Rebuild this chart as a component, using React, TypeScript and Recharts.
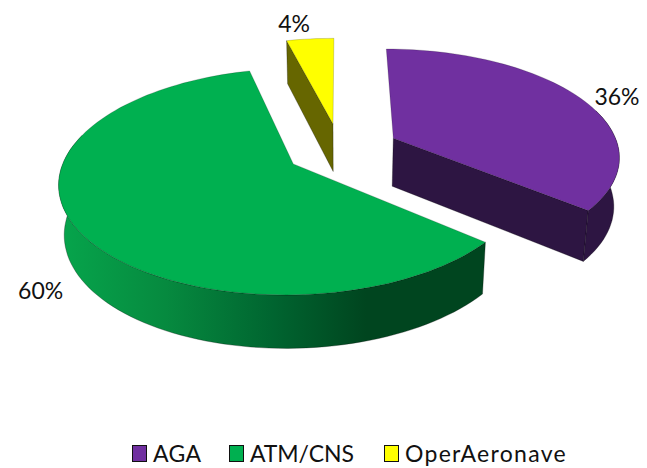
import React from 'react';
import { PieChart, Pie, Cell, Legend } from 'recharts';

const categories = ['AGA', 'ATM/CNS', 'OperAeronave'];
const shares = [36, 60, 4];

const COLORS = ['#7030A0', '#00B050', '#FFFF00'];
const WALLS = ['#2D1542', '#00451F', '#666600'];
const EXPLODE = [0.265, 0.24, 0.255];
const LABEL_NUDGE = [[38, -1], [-36, 61], [-16, -16]];

const FONT = 'Lato, "Open Sans", sans-serif';
const TILT = 0.47;
const PERSPECTIVE = 0.153;

const chartData = categories.map((name, i) => ({ name, value: shares[i] }));

const rad = (deg: number) => (deg * Math.PI) / 180;

// projects a point of the pie's plane (radius 1 = outerRadius) to the screen
const project = (cx: number, cy: number, r: number, X: number, Y: number, low = false) => {
  const s = 1 / (1 + PERSPECTIVE * Y);
  const x = r * X * s;
  const y = -r * TILT * Y * s;
  if (!low) return [cx + x, cy + y];
  return [cx + x * 0.98, cy + y + 48.5 - 4.4 * Y];
};

const toPath = (pts: number[][]) =>
  pts.map((p, i) => `${i ? 'L' : 'M'}${p[0].toFixed(1)},${p[1].toFixed(1)}`).join(' ') + ' Z';

const Slice3D = (props: any) => {
  const { cx, cy, outerRadius, startAngle, endAngle, midAngle } = props;
  const index = categories.indexOf(props.name);
  const ox = EXPLODE[index] * Math.cos(rad(midAngle));
  const oy = EXPLODE[index] * Math.sin(rad(midAngle));

  const angles: number[] = [];
  const steps = Math.max(4, Math.ceil(Math.abs(endAngle - startAngle) / 2));
  for (let i = 0; i <= steps; i++) angles.push(startAngle + ((endAngle - startAngle) * i) / steps);

  const rim = (a: number, low = false) =>
    project(cx, cy, outerRadius, ox + Math.cos(rad(a)), oy + Math.sin(rad(a)), low);
  const apex = (low = false) => project(cx, cy, outerRadius, ox, oy, low);

  // the back of the rim is hidden by the top face
  const front = angles.filter((a) => Math.sin(rad(a)) < 0.3);

  const top = [apex(), ...angles.map((a) => rim(a))];
  const outer = [...front.map((a) => rim(a)), ...front.slice().reverse().map((a) => rim(a, true))];
  const cutA = [apex(), rim(startAngle), rim(startAngle, true), apex(true)];
  const cutB = [apex(), rim(endAngle), rim(endAngle, true), apex(true)];
  // a cut face only shows when it turns towards the viewer
  const showA = Math.cos(rad(startAngle)) < -0.01;
  const showB = Math.cos(rad(endAngle)) > 0.01;
  const wall = WALLS[index];
  const outerFill = index === 1 ? 'url(#greenWall)' : wall;
  const edge = { stroke: '#000', strokeOpacity: 0.4, strokeWidth: 0.7 };

  return (
    <g>
      <defs>
        <linearGradient id="greenWall" x1="0" y1="0" x2="1" y2="0">
          <stop offset="0" stopColor="#06A54C" />
          <stop offset="0.25" stopColor="#068A3F" />
          <stop offset="0.5" stopColor="#006530" />
          <stop offset="0.72" stopColor="#00451F" />
          <stop offset="1" stopColor="#00451F" />
        </linearGradient>
      </defs>
      {showA && <path d={toPath(cutA)} fill={wall} {...edge} />}
      {showB && <path d={toPath(cutB)} fill={wall} {...edge} />}
      {front.length > 1 && <path d={toPath(outer)} fill={outerFill} {...edge} />}
      <path d={toPath(top)} fill={COLORS[index]} {...edge} strokeOpacity={0.25} />
    </g>
  );
};

const renderLabel = (props: any) => {
  const { cx, cy, outerRadius, midAngle, name, value } = props;
  const index = categories.indexOf(name);
  const r = 1 + EXPLODE[index];
  const [x, y] = project(cx, cy, outerRadius, r * Math.cos(rad(midAngle)), r * Math.sin(rad(midAngle)));
  return (
    <text
      x={x + LABEL_NUDGE[index][0]}
      y={y + LABEL_NUDGE[index][1]}
      textAnchor="middle"
      dominantBaseline="central"
      fontFamily={FONT}
      fontSize={23}
      fill="#111"
    >
      {`${value}%`}
    </text>
  );
};

const renderLegend = () => (
  <div style={{ position: 'relative', height: 28, fontFamily: FONT, fontSize: 23, color: '#111' }}>
    {categories.map((name, i) => {
      const left = [132, 229, 384][i];
      return (
        <div key={name} style={{ position: 'absolute', left, top: 0, display: 'flex', alignItems: 'center', whiteSpace: 'nowrap' }}>
          <span style={{ width: 13, height: 15, background: COLORS[i], border: '1.5px solid #111', marginRight: 6 }} />
          <span style={{ letterSpacing: i === 2 ? 1.3 : i === 1 ? -0.1 : 0.3 }}>{name}</span>
        </div>
      );
    })}
  </div>
);

export default function App() {
  return (
    <div style={{ position: 'absolute', left: 0, top: 0, width: 647, height: 468, background: '#fff' }}>
      <PieChart width={647} height={468} margin={{ top: 0, right: 0, bottom: 0, left: 0 }}>
        <Pie
          data={chartData}
          dataKey="value"
          nameKey="name"
          cx={340}
          cy={150}
          innerRadius={0}
          outerRadius={226}
          startAngle={90}
          endAngle={-270}
          paddingAngle={0}
          stroke="none"
          shape={Slice3D}
          label={renderLabel}
          labelLine={false}
          isAnimationActive={false}
        >
          {chartData.map((entry, index) => (
            <Cell key={`cell-${index}`} fill={COLORS[index]} />
          ))}
        </Pie>
        <Legend content={renderLegend} wrapperStyle={{ left: 0, top: 439, width: 647 }} />
      </PieChart>
    </div>
  );
}
